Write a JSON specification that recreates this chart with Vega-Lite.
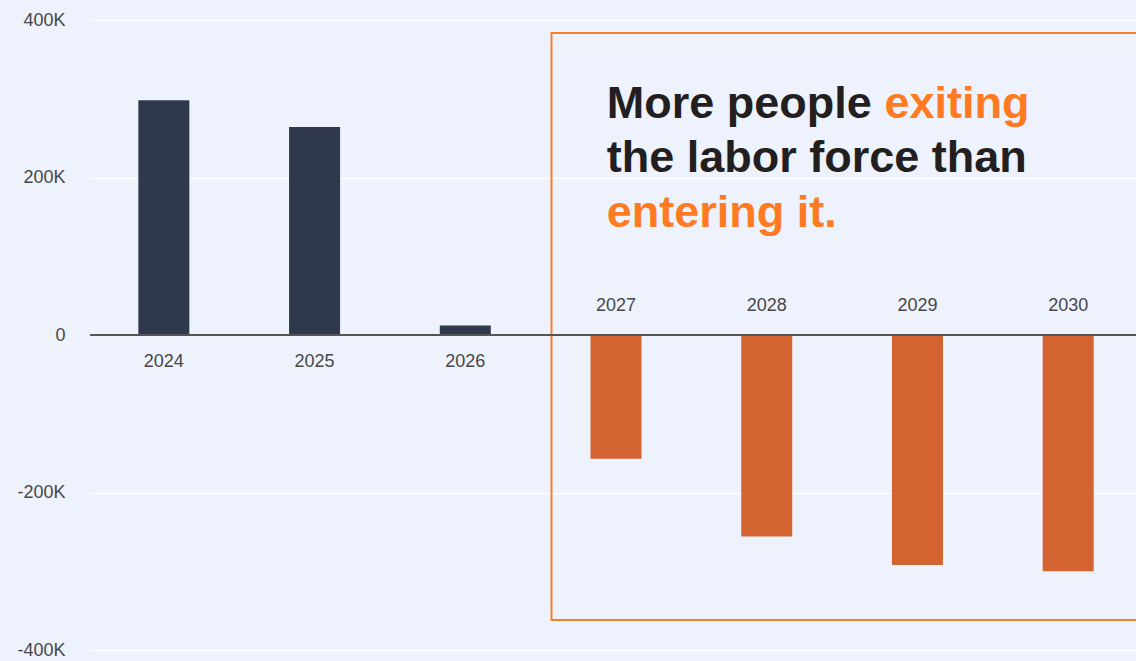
{
  "$schema": "https://vega.github.io/schema/vega-lite/v6.json",
  "autosize": {"type": "none"},
  "width": 1046,
  "height": 630,
  "padding": {"left": 90, "top": 20, "right": 0, "bottom": 11},
  "background": "#EEF2FC",
  "config": {
    "view": {"stroke": null},
    "axisY": {"title": null, "domain": false, "ticks": false, "gridColor": "#FFFFFF", "gridWidth": 1.6, "gridOpacity": 1, "labelFont": "Liberation Sans", "labelFontSize": 18, "labelColor": "#474747", "labelPadding": 25}
  },
  "datasets": {
    "bars": [
      {"year": 2024, "change": 298000},
      {"year": 2025, "change": 264000},
      {"year": 2026, "change": 12000},
      {"year": 2027, "change": -157000},
      {"year": 2028, "change": -256000},
      {"year": 2029, "change": -292000},
      {"year": 2030, "change": -300000}
    ],
    "box": [
      {"x0": 2026.572, "x1": 2030.8, "top": 383500, "bottom": -361900}
    ],
    "note": [
      {"x": 2026.938, "y": 275200, "text": "More people", "tone": "dark"},
      {"x": 2028.781, "y": 275200, "text": "exiting", "tone": "accent"},
      {"x": 2026.938, "y": 207400, "text": "the labor force than", "tone": "dark"},
      {"x": 2026.938, "y": 137500, "text": "entering it.", "tone": "accent"}
    ],
    "zero": [{"level": 0}]
  },
  "layer": [
    {
      "data": {"name": "bars"},
      "mark": {"type": "bar", "width": 51},
      "encoding": {
        "x": {"field": "year", "type": "quantitative", "scale": {"domain": [2023.51, 2030.45], "nice": false, "zero": false, "padding": 0}, "axis": null},
        "y": {"field": "change", "type": "quantitative", "scale": {"domain": [-400000, 400000], "nice": false},
          "axis": {"values": [-400000, -200000, 0, 200000, 400000], "labelExpr": "datum.value == 0 ? '0' : (datum.value / 1000) + 'K'", "title": null}},
        "color": {"condition": {"test": "datum.change < 0", "value": "#D36432"}, "value": "#30384D"}
      }
    },
    {
      "data": {"name": "box"},
      "mark": {"type": "rect", "filled": false, "stroke": "#F5802A", "strokeWidth": 2, "clip": true},
      "encoding": {
        "x": {"field": "x0", "type": "quantitative", "axis": null},
        "x2": {"field": "x1"},
        "y": {"field": "top", "type": "quantitative", "axis": {"values": [-400000, -200000, 0, 200000, 400000], "labelExpr": "datum.value == 0 ? '0' : (datum.value / 1000) + 'K'", "title": null}},
        "y2": {"field": "bottom"}
      }
    },
    {
      "data": {"name": "zero"},
      "mark": {"type": "rule", "color": "#555555", "strokeWidth": 2},
      "encoding": {"y": {"field": "level", "type": "quantitative", "axis": {"values": [-400000, -200000, 0, 200000, 400000], "labelExpr": "datum.value == 0 ? '0' : (datum.value / 1000) + 'K'", "title": null}}}
    },
    {
      "data": {"name": "bars"},
      "transform": [{"filter": "datum.change >= 0"}],
      "mark": {"type": "text", "dy": 27, "baseline": "middle", "align": "center", "font": "Liberation Sans", "fontSize": 18, "color": "#474747"},
      "encoding": {
        "x": {"field": "year", "type": "quantitative", "axis": null},
        "y": {"datum": 0, "type": "quantitative", "axis": {"values": [-400000, -200000, 0, 200000, 400000], "labelExpr": "datum.value == 0 ? '0' : (datum.value / 1000) + 'K'", "title": null}},
        "text": {"field": "year", "type": "nominal"}
      }
    },
    {
      "data": {"name": "bars"},
      "transform": [{"filter": "datum.change < 0"}],
      "mark": {"type": "text", "dy": -29, "baseline": "middle", "align": "center", "font": "Liberation Sans", "fontSize": 18, "color": "#474747"},
      "encoding": {
        "x": {"field": "year", "type": "quantitative", "axis": null},
        "y": {"datum": 0, "type": "quantitative", "axis": {"values": [-400000, -200000, 0, 200000, 400000], "labelExpr": "datum.value == 0 ? '0' : (datum.value / 1000) + 'K'", "title": null}},
        "text": {"field": "year", "type": "nominal"}
      }
    },
    {
      "data": {"name": "note"},
      "mark": {"type": "text", "align": "left", "baseline": "alphabetic", "font": "Liberation Sans", "fontSize": 45, "fontWeight": "bold"},
      "encoding": {
        "x": {"field": "x", "type": "quantitative", "axis": null},
        "y": {"field": "y", "type": "quantitative", "axis": {"values": [-400000, -200000, 0, 200000, 400000], "labelExpr": "datum.value == 0 ? '0' : (datum.value / 1000) + 'K'", "title": null}},
        "text": {"field": "text", "type": "nominal"},
        "color": {"field": "tone", "type": "nominal", "scale": {"domain": ["dark", "accent"], "range": ["#231F20", "#FF7A21"]}, "legend": null}
      }
    }
  ]
}
